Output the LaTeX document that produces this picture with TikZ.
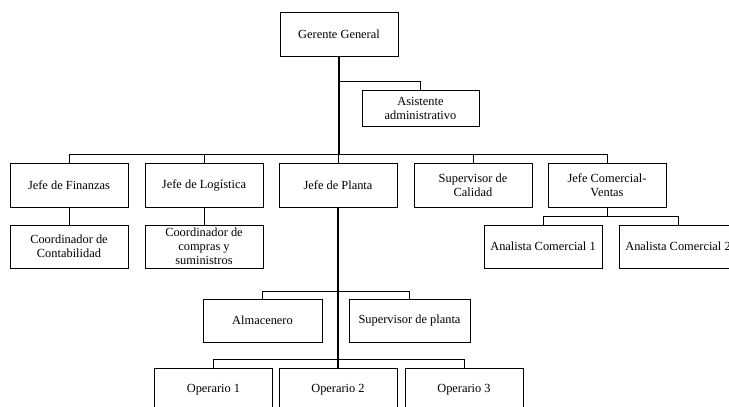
\documentclass[tikz,border=0pt]{standalone}
\usepackage{fontspec}
\setmainfont{Liberation Serif}
\begin{document}
\begin{tikzpicture}[x=1pt,y=-1pt,
  box/.style={draw=black,line width=0.9pt,fill=white,inner sep=2pt,
    minimum width=118pt,minimum height=44pt,align=center,
    font=\fontsize{12.4}{14}\selectfont},
  short/.style={box,minimum height=43pt},
  link/.style={draw=black,line width=0.8pt},
  trunk/.style={draw=black,line width=1.7pt}]
\useasboundingbox (0,0) rectangle (729,407);
\clip (0,0) rectangle (729,407);
% levels of the horizontal links
\coordinate (ja) at (0,81);
\coordinate (j1) at (0,154);
\coordinate (j2) at (0,216);
\coordinate (j3) at (0,291);
\coordinate (j4) at (0,359);
% boxes
\node[box] (gg) at (339,34) {Gerente General};
\node[box,minimum width=117pt,minimum height=36pt] (asis) at (420.5,108) {Asistente\\administrativo};
\node[box] (fin) at (69,185) {Jefe de Finanzas};
\node[box] (log) at (204,185) {Jefe de Logística};
\node[box] (pla) at (338,185) {Jefe de Planta};
\node[box] (cal) at (473,185) {Supervisor de\\Calidad};
\node[box] (com) at (607,185) {Jefe Comercial-\\Ventas};
\node[short] (cont) at (69,246.5) {Coordinador de\\Contabilidad};
\node[short,inner sep=0pt] (comp) at (204,246.5) {Coordinador de\\compras y\\suministros};
\node[short] (an1) at (543,246.5) {Analista Comercial 1};
\node[short] (an2) at (678,246.5) {Analista Comercial 2};
\node[short,minimum width=119pt] (alm) at (262.5,320.5) {Almacenero};
\node[short,minimum width=121pt] (sup) at (409.5,320.5) {Supervisor de planta};
\node[box] (op1) at (213.5,390) {Operario 1};
\node[box] (op2) at (338,390) {Operario 2};
\node[box] (op3) at (464,390) {Operario 3};
% links
\draw[trunk] (gg.south) -- (gg.south |- j1);
\draw[link] (gg.south |- ja) -| (asis.north);
\draw[link] (fin.north) |- (com.north |- j1) -- (com.north);
\draw[link] (log.north) -- (log.north |- j1);
\draw[link] (pla.north) -- (pla.north |- j1);
\draw[link] (cal.north) -- (cal.north |- j1);
\draw[link] (fin.south) -- (cont.north);
\draw[link] (log.south) -- (comp.north);
\draw[link] (com.south) -- (com.south |- j2);
\draw[link] (an1.north) |- (an2.north |- j2) -- (an2.north);
\draw[trunk] (pla.south) -- (op2.north);
\draw[link] (alm.north) |- (sup.north |- j3) -- (sup.north);
\draw[link] (op1.north) |- (op3.north |- j4) -- (op3.north);
\end{tikzpicture}
\end{document}
